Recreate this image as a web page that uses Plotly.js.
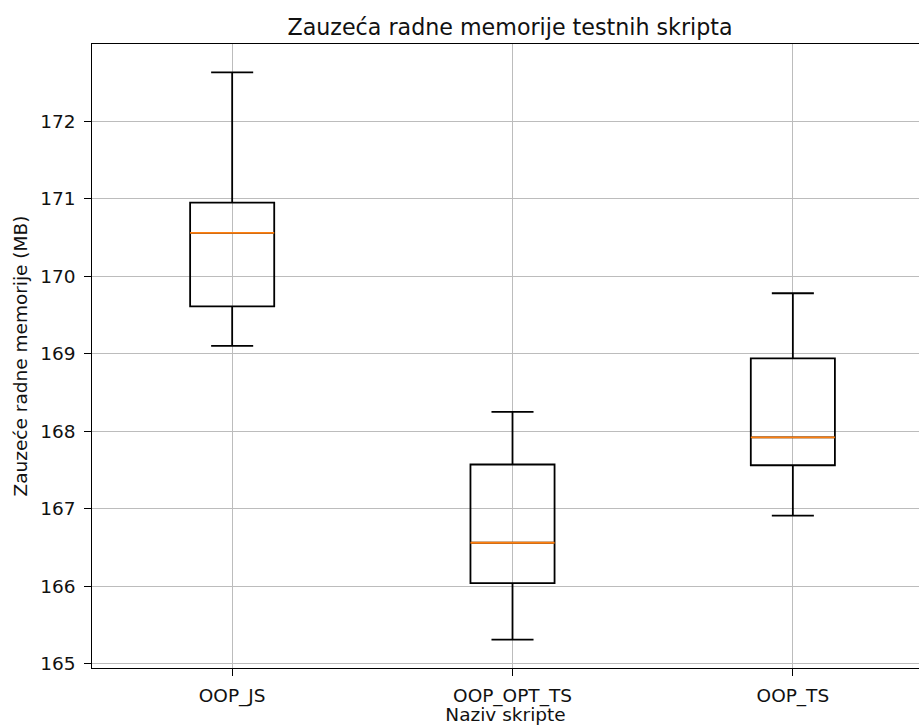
<!DOCTYPE html>
<html><head><meta charset="utf-8">
<script src="https://cdn.plot.ly/plotly-3.0.1.min.js"></script>
<style>html,body{margin:0;padding:0;background:#fff}</style>
</head><body>
<div id="chart" style="width:919px;height:725px"></div>
<script>
const categories = ["OOP_JS", "OOP_OPT_TS", "OOP_TS"];
const positions = [1, 2, 3];
const lowerWhisker = [169.10, 165.31, 166.91];
const q1Values = [169.61, 166.04, 167.56];
const medianValues = [170.56, 166.56, 167.92];
const q3Values = [170.95, 167.57, 168.94];
const upperWhisker = [172.63, 168.25, 169.78];
const yTickValues = [165, 166, 167, 168, 169, 170, 171, 172];

const FONT = "DejaVu Sans";
const lo = Math.min(...lowerWhisker), hi = Math.max(...upperWhisker);
const pad = 0.05 * (hi - lo);

const boxes = {
  type: "box", x: positions,
  q1: q1Values, median: medianValues, q3: q3Values,
  lowerfence: lowerWhisker, upperfence: upperWhisker,
  width: 0.3, whiskerwidth: 0.5, boxpoints: false,
  fillcolor: "rgba(0,0,0,0)",
  line: {color: "#000000", width: 1.8},
  hoverinfo: "skip"
};
const medians = {
  type: "box", x: positions,
  q1: medianValues, median: medianValues, q3: medianValues,
  lowerfence: medianValues, upperfence: medianValues,
  width: 0.3, whiskerwidth: 0, boxpoints: false,
  fillcolor: "rgba(0,0,0,0)",
  line: {color: "#ff7f0e", width: 1.8},
  hoverinfo: "skip"
};

const axisCommon = {
  showgrid: true, gridcolor: "#bcbcbc", gridwidth: 1.2,
  showline: true, linecolor: "#000000", linewidth: 1.3,
  ticks: "outside", ticklen: 6.5, tickwidth: 1.3, tickcolor: "#000000",
  zeroline: false,
  tickfont: {family: FONT, size: 18.5, color: "#111111"}
};

const layout = {
  width: 919, height: 725,
  margin: {l: 92, r: 0, t: 44, b: 57},
  paper_bgcolor: "#ffffff", plot_bgcolor: "#ffffff",
  showlegend: false, boxmode: "overlay",
  title: {text: "Zauzeća radne memorije testnih skripta",
          font: {family: FONT, size: 22.2, color: "#111111"},
          xref: "container", x: 0.555, xanchor: "center",
          yref: "container", y: 0.963, yanchor: "middle"},
  xaxis: Object.assign({}, axisCommon, {
    range: [0.5, 3.45], tickmode: "array", tickvals: positions, ticktext: categories,
    mirror: true, ticklabelstandoff: 4,
    title: {text: "Naziv skripte", font: {family: FONT, size: 18.5, color: "#111111"}, standoff: 6}
  }),
  yaxis: Object.assign({}, axisCommon, {
    range: [lo - pad, hi + pad], tickmode: "array", tickvals: yTickValues,
    mirror: false, ticklabelstandoff: 5,
    title: {text: "Zauzeće radne memorije (MB)", font: {family: FONT, size: 18.5, color: "#111111"}, standoff: 7}
  })
};

Plotly.newPlot("chart", [boxes, medians], layout, {displayModeBar: false, staticPlot: true});
</script>
</body></html>
